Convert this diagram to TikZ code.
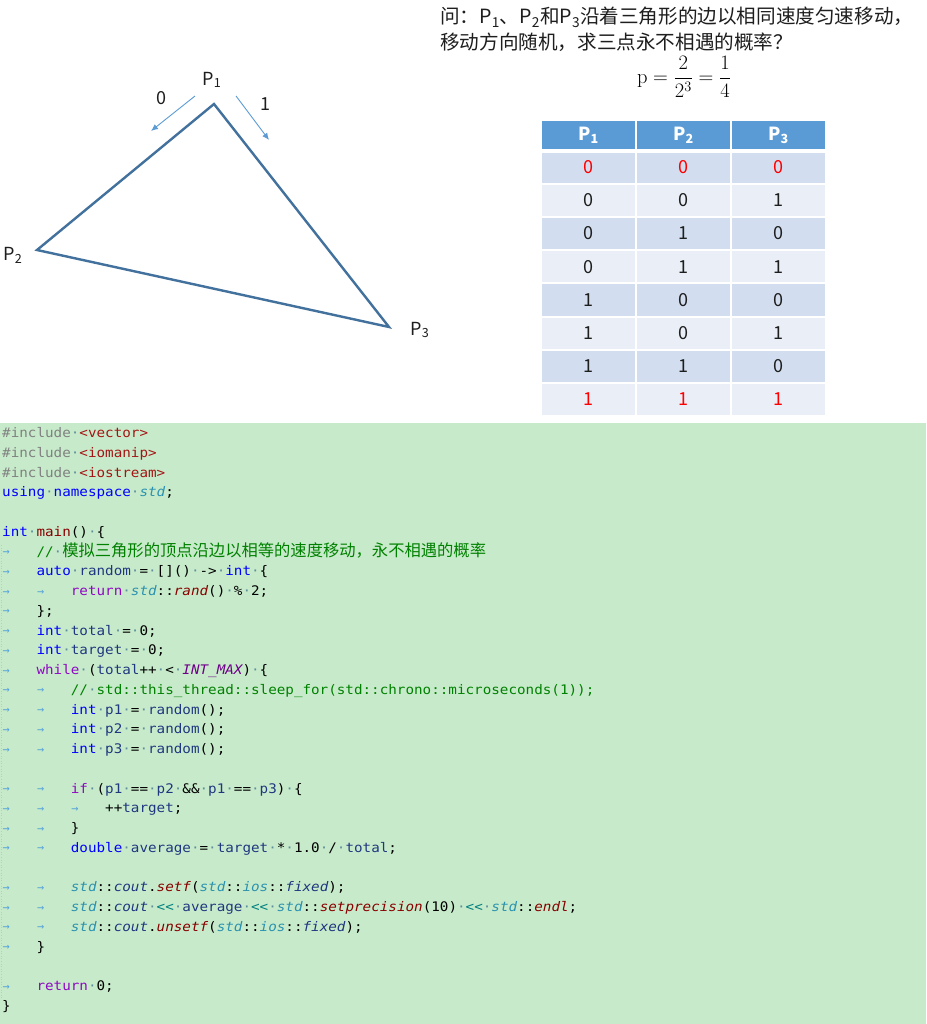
\documentclass[tikz,border=0pt]{standalone}
\usepackage{fix-cm}
\usepackage{fontspec}
\usetikzlibrary{arrows.meta}
\newfontfamily\cjk{Noto Sans CJK SC}
\newfontfamily\codefont[FakeStretch=1.08]{DejaVu Sans Mono}
\newfontfamily\arrfont{DejaVu Sans Mono}
\definecolor{tri}{HTML}{41719C}
\definecolor{arr}{HTML}{5B9BD5}
\definecolor{hdr}{HTML}{5B9BD5}
\definecolor{bandA}{HTML}{D2DEEF}
\definecolor{bandB}{HTML}{EAEFF7}
\definecolor{codebg}{HTML}{C7EBCA}
\definecolor{ckw}{HTML}{0000FF}
\definecolor{cpur}{HTML}{8F08C4}
\definecolor{ccm}{HTML}{008000}
\definecolor{cstr}{HTML}{A31515}
\definecolor{cty}{HTML}{2B91AF}
\definecolor{cfn}{HTML}{880000}
\definecolor{cva}{HTML}{1F377F}
\definecolor{cmac}{HTML}{6F008A}
\definecolor{cop}{HTML}{008080}
\definecolor{cgr}{HTML}{808080}
\definecolor{cdot}{HTML}{5E8E9E}
\definecolor{ctab}{HTML}{5AA5D8}
\definecolor{txt}{HTML}{1E1E1E}
\newlength\cw
\setlength\cw{8.583pt}
\newcommand\Cdt{\textcolor{cdot}{·}}
\newcommand\Ctb{\makebox[4\cw][l]{\hspace{0.5pt}\raisebox{0.3pt}{\textcolor{ctab}{\arrfont\fontsize{12}{12}\selectfont →}}}}
\newcommand\Ckw[1]{\textcolor{ckw}{#1}}
\newcommand\Cpu[1]{\textcolor{cpur}{#1}}
\newcommand\Ccm[1]{\textcolor{ccm}{#1}}
\newcommand\Cst[1]{\textcolor{cstr}{#1}}
\newcommand\Cty[1]{\textcolor{cty}{\itshape #1}}
\newcommand\Cfn[1]{\textcolor{cfn}{\itshape #1}}
\newcommand\Cva[1]{\textcolor{cva}{#1}}
\newcommand\Cvi[1]{\textcolor{cva}{\itshape #1}}
\newcommand\Cmac[1]{\textcolor{cmac}{\itshape #1}}
\newcommand\Cop[1]{\textcolor{cop}{#1}}
\begin{document}
\begin{tikzpicture}[x=1pt,y=-1pt,
  lab/.style={inner sep=0pt,font=\cjk\fontsize{18}{20}\selectfont,text=txt},
  q/.style={anchor=base west,inner sep=0pt,font=\cjk\fontsize{19.6}{22}\selectfont,text=txt},
  cell/.style={draw=white,line width=2pt,inner sep=0pt,minimum width=95pt,minimum height=33.2pt,font=\cjk\fontsize{18}{20}\selectfont},
  code/.style={anchor=base west,inner sep=0pt,font=\codefont\fontsize{13.2}{16}\selectfont,text=black},
  mv/.style={arr,line width=0.9pt,-{Latex[length=7pt,width=6pt]}}]
\useasboundingbox (0,0) rectangle (926,1024);
\fill[white] (0,0) rectangle (926,423);
\fill[codebg] (0,423) rectangle (926,1024);
% triangle
\coordinate (v1) at (214,104);
\coordinate (v2) at (37,250);
\coordinate (v3) at (389,327);
\draw[tri,line width=2.4pt,line join=miter] (v1) -- (v2) -- (v3) -- cycle;
\node[lab] (lp1) at (212,80) {P\textsubscript{1}};
\node[lab] (lp2) at (13,255) {P\textsubscript{2}};
\node[lab] (lp3) at (420,330) {P\textsubscript{3}};
\coordinate (a0s) at (195,96);
\coordinate (a0e) at (151,131);
\coordinate (a1s) at (236,96);
\coordinate (a1e) at (269,140);
\draw[mv] (a0s) -- (a0e);
\draw[mv] (a1s) -- (a1e);
\node[lab] (l0) at (161,98) {0};
\node[lab] (l1) at (265,104) {1};
% question
\node[q] (q1) at (440,24) {问：P\textsubscript{1}、P\textsubscript{2}和P\textsubscript{3}沿着三角形的边以相同速度匀速移动，};
\node[q] (q2) at (440,50) {移动方向随机，求三点永不相遇的概率？};
\node[inner sep=0pt,font=\fontsize{20.5}{24}\selectfont] (formula) at (684,77) {$\displaystyle \mathrm{p}=\frac{2}{2^3}=\frac{1}{4}$};
% table
\node[cell,fill=hdr,text=white,minimum height=30.5pt] (h1) at (588.5,135.25) {\bfseries P\textsubscript{1}};
\node[cell,fill=hdr,text=white,minimum height=30.5pt] (h2) at (683.5,135.25) {\bfseries P\textsubscript{2}};
\node[cell,fill=hdr,text=white,minimum height=30.5pt] (h3) at (778.5,135.25) {\bfseries P\textsubscript{3}};
\foreach \r/\a/\b/\c in {1/0/0/0,2/0/0/1,3/0/1/0,4/0/1/1,5/1/0/0,6/1/0/1,7/1/1/0,8/1/1/1}{
  \pgfmathsetmacro\yy{150.5+33.2*(\r-0.5)}
  \pgfmathtruncatemacro\odd{mod(\r,2)}
  \ifnum\odd=1 \def\bg{bandA}\else\def\bg{bandB}\fi
  \ifnum\r=1 \def\tc{red}\else\ifnum\r=8 \def\tc{red}\else\def\tc{txt}\fi\fi
  \node[cell,fill=\bg,text=\tc] (c\r a) at (588.5,\yy) {\a};
  \node[cell,fill=\bg,text=\tc] (c\r b) at (683.5,\yy) {\b};
  \node[cell,fill=\bg,text=\tc] (c\r c) at (778.5,\yy) {\c};
}
\draw[white,line width=3pt] (h1.south west) -- (h3.south east);
% code
\draw[gray!45,line width=0.6pt,dotted] (1.5,545) -- (1.5,1000);
\def\bl{437.5}
\def\ls{19.75}
\node[code] (k0) at (2,{\bl+0*\ls}) {\textcolor{cgr}{\#include}\Cdt\Cst{<vector>}};
\node[code] (k1) at (2,{\bl+1*\ls}) {\textcolor{cgr}{\#include}\Cdt\Cst{<iomanip>}};
\node[code] (k2) at (2,{\bl+2*\ls}) {\textcolor{cgr}{\#include}\Cdt\Cst{<iostream>}};
\node[code] (k3) at (2,{\bl+3*\ls}) {\Ckw{using}\Cdt\Ckw{namespace}\Cdt\Cty{std};};
\node[code] (k5) at (2,{\bl+5*\ls}) {\Ckw{int}\Cdt\textcolor{cfn}{main}()\Cdt\{};
\node[code] (k6) at (2,{\bl+6*\ls}) {\Ctb\Ccm{//}\Cdt\Ccm{\cjk\fontsize{16.3}{16}\selectfont 模拟三角形的顶点沿边以相等的速度移动，永不相遇的概率}};
\node[code] (k7) at (2,{\bl+7*\ls}) {\Ctb\Ckw{auto}\Cdt\Cva{random}\Cdt=\Cdt[]()\Cdt->\Cdt\Ckw{int}\Cdt\{};
\node[code] (k8) at (2,{\bl+8*\ls}) {\Ctb\Ctb\Cpu{return}\Cdt\Cty{std}::\Cfn{rand}()\Cdt\%\Cdt2;};
\node[code] (k9) at (2,{\bl+9*\ls}) {\Ctb\};};
\node[code] (k10) at (2,{\bl+10*\ls}) {\Ctb\Ckw{int}\Cdt\Cva{total}\Cdt=\Cdt0;};
\node[code] (k11) at (2,{\bl+11*\ls}) {\Ctb\Ckw{int}\Cdt\Cva{target}\Cdt=\Cdt0;};
\node[code] (k12) at (2,{\bl+12*\ls}) {\Ctb\Cpu{while}\Cdt(\Cva{total}++\Cdt<\Cdt\Cmac{INT\_MAX})\Cdt\{};
\node[code] (k13) at (2,{\bl+13*\ls}) {\Ctb\Ctb\Ccm{//}\Cdt\Ccm{std::this\_thread::sleep\_for(std::chrono::microseconds(1));}};
\node[code] (k14) at (2,{\bl+14*\ls}) {\Ctb\Ctb\Ckw{int}\Cdt\Cva{p1}\Cdt=\Cdt\Cva{random}();};
\node[code] (k15) at (2,{\bl+15*\ls}) {\Ctb\Ctb\Ckw{int}\Cdt\Cva{p2}\Cdt=\Cdt\Cva{random}();};
\node[code] (k16) at (2,{\bl+16*\ls}) {\Ctb\Ctb\Ckw{int}\Cdt\Cva{p3}\Cdt=\Cdt\Cva{random}();};
\node[code] (k18) at (2,{\bl+18*\ls}) {\Ctb\Ctb\Cpu{if}\Cdt(\Cva{p1}\Cdt==\Cdt\Cva{p2}\Cdt\&\&\Cdt\Cva{p1}\Cdt==\Cdt\Cva{p3})\Cdt\{};
\node[code] (k19) at (2,{\bl+19*\ls}) {\Ctb\Ctb\Ctb++\Cva{target};};
\node[code] (k20) at (2,{\bl+20*\ls}) {\Ctb\Ctb\}};
\node[code] (k21) at (2,{\bl+21*\ls}) {\Ctb\Ctb\Ckw{double}\Cdt\Cva{average}\Cdt=\Cdt\Cva{target}\Cdt*\Cdt1.0\Cdt/\Cdt\Cva{total};};
\node[code] (k23) at (2,{\bl+23*\ls}) {\Ctb\Ctb\Cty{std}::\Cvi{cout}.\Cfn{setf}(\Cty{std}::\Cty{ios}::\Cvi{fixed});};
\node[code] (k24) at (2,{\bl+24*\ls}) {\Ctb\Ctb\Cty{std}::\Cvi{cout}\Cdt\Cop{<<}\Cdt\Cva{average}\Cdt\Cop{<<}\Cdt\Cty{std}::\Cfn{setprecision}(10)\Cdt\Cop{<<}\Cdt\Cty{std}::\Cfn{endl};};
\node[code] (k25) at (2,{\bl+25*\ls}) {\Ctb\Ctb\Cty{std}::\Cvi{cout}.\Cfn{unsetf}(\Cty{std}::\Cty{ios}::\Cvi{fixed});};
\node[code] (k26) at (2,{\bl+26*\ls}) {\Ctb\}};
\node[code] (k28) at (2,{\bl+28*\ls}) {\Ctb\Cpu{return}\Cdt0;};
\node[code] (k29) at (2,{\bl+29*\ls}) {\}};
\end{tikzpicture}
\end{document}
